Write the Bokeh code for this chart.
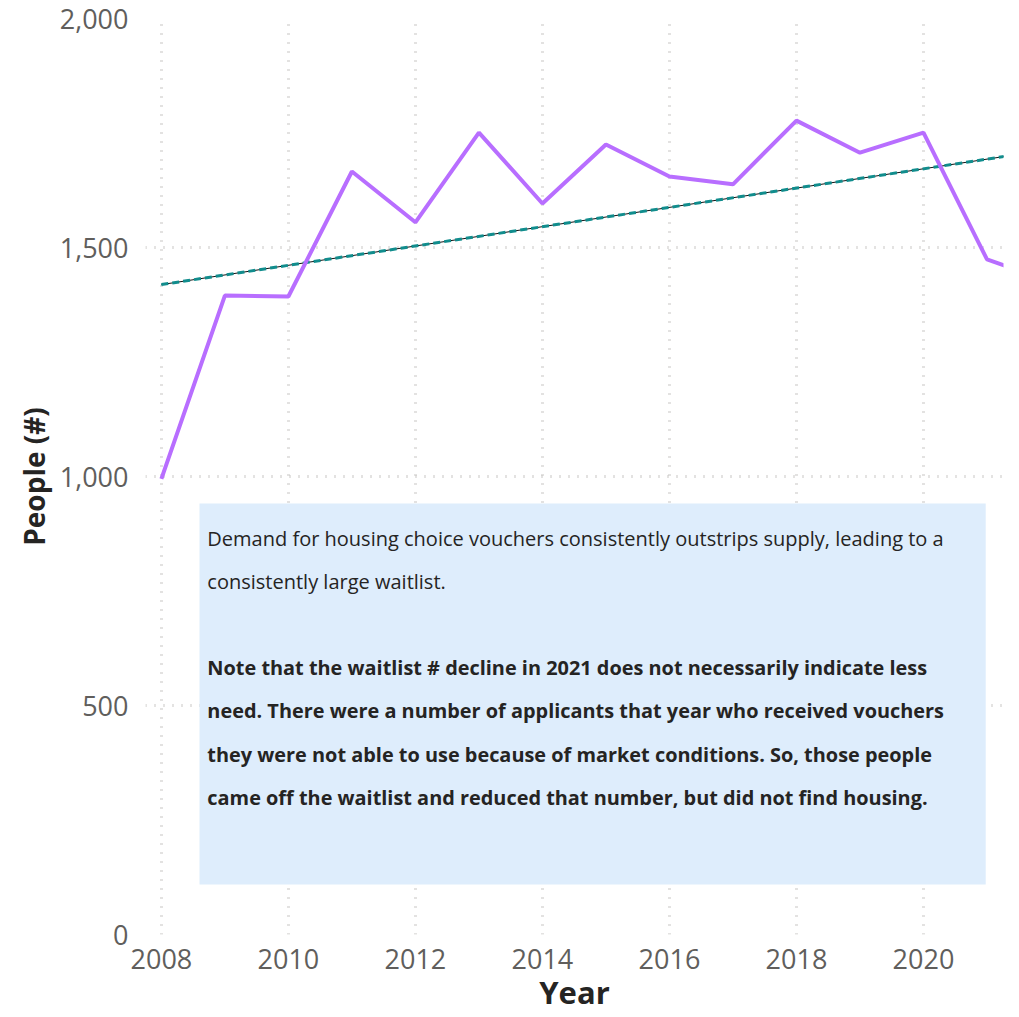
from bokeh.plotting import figure
from bokeh.models import Range1d, NumeralTickFormatter, FixedTicker, BoxAnnotation, Label
from bokeh.embed import file_html
from bokeh.resources import INLINE

# ---- data ----
years = [2008, 2009, 2010, 2011, 2012, 2013, 2014, 2015, 2016, 2017, 2018, 2019, 2020, 2021, 2022]
waitlist = [995, 1395, 1393, 1666, 1555, 1751, 1596, 1725, 1655, 1638, 1777, 1707, 1751, 1474, 1425]
trend_years = [2008, 2022]
trend_values = [1419, 1714]
x_ticks = [2008, 2010, 2012, 2014, 2016, 2018, 2020]
y_ticks = [0, 500, 1000, 1500, 2000]
x_title = "Year"
y_title = "People (#)"
note_normal = [
    "Demand for housing choice vouchers consistently outstrips supply, leading to a",
    "consistently large waitlist.",
]
note_bold = [
    "Note that the waitlist # decline in 2021 does not necessarily indicate less",
    "need. There were a number of applicants that year who received vouchers",
    "they were not able to use because of market conditions. So, those people",
    "came off the waitlist and reduced that number, but did not find housing.",
]

FONT = "Open Sans"
GRID = "#C8C6C4"

p = figure(width=1011, height=1015, output_backend="svg", toolbar_location=None,
           x_range=Range1d(2007.75, 2021.26), y_range=Range1d(0, 2000),
           min_border_left=145, min_border_right=8, min_border_top=18, min_border_bottom=81)
p.outline_line_color = None
p.background_fill_color = "white"
p.border_fill_color = "white"

for ax in (p.xaxis[0], p.yaxis[0]):
    ax.axis_line_color = None
    ax.major_tick_line_color = None
    ax.minor_tick_line_color = None
    ax.major_tick_in = 0
    ax.major_tick_out = 0
    ax.major_label_text_font = FONT
    ax.major_label_text_font_size = "27px"
    ax.major_label_text_color = "#605E5C"
    ax.axis_label_text_font = FONT
    ax.axis_label_text_font_style = "bold"
    ax.axis_label_text_color = "#252423"

p.xaxis.ticker = FixedTicker(ticks=x_ticks)
p.yaxis.ticker = FixedTicker(ticks=y_ticks)
p.yaxis.formatter = NumeralTickFormatter(format="0,0")
p.xaxis.axis_label = x_title
p.yaxis.axis_label = y_title
p.xaxis.axis_label_text_font_size = "31px"
p.yaxis.axis_label_text_font_size = "28px"
p.xaxis.major_label_standoff = 14
p.yaxis.major_label_standoff = 17
p.xaxis.axis_label_standoff = -1
p.yaxis.axis_label_standoff = 4

for g in (p.xgrid[0], p.ygrid[0]):
    g.grid_line_color = GRID
    g.grid_line_width = 3
    g.grid_line_dash = "1 8"

# annotation box
p.add_layout(BoxAnnotation(left=2008.6, right=2020.98, bottom=109, top=941,
                           fill_color="#DEEDFC", fill_alpha=1.0, line_color=None, level="underlay"))

# lines
p.line(trend_years, trend_values, line_color="#111111", line_width=1)
p.line(trend_years, trend_values, line_color="#118D8D", line_width=3, line_dash="7 4")
p.line(years, waitlist, line_color="#B86EFF", line_width=4)

line_y_normal = [864.6, 770.7]
line_y_bold = [583, 489, 393, 299]
for t, yy in zip(note_normal, line_y_normal):
    p.add_layout(Label(x=2008.724, y=yy, text=t, text_font=FONT, text_font_size="20px",
                       text_color="#252423", text_baseline="middle"))
for t, yy in zip(note_bold, line_y_bold):
    p.add_layout(Label(x=2008.724, y=yy, text=t, text_font=FONT, text_font_size="19.9px",
                       text_font_style="bold", text_color="#252423", text_baseline="middle"))

open("out.html", "w").write(file_html(p, INLINE))
